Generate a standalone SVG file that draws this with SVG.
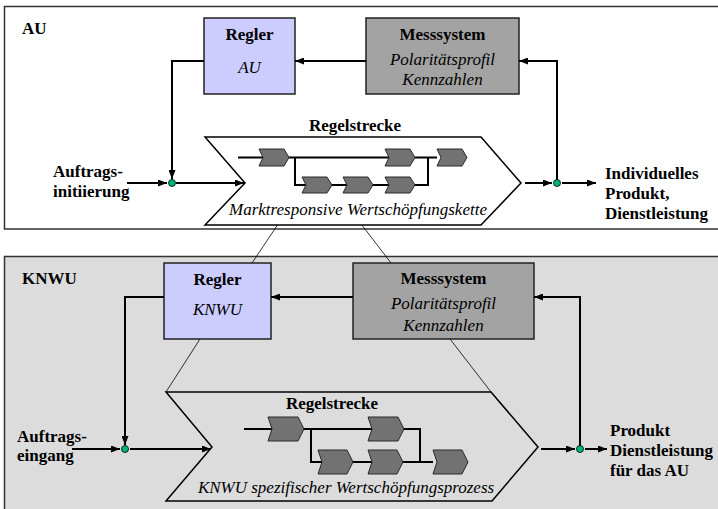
<svg xmlns="http://www.w3.org/2000/svg" width="718" height="509" viewBox="0 0 718 509">
<style>
.t{font-family:'Liberation Serif','DejaVu Serif',serif;font-size:17px;fill:#000}
.b{font-weight:bold}
.i{font-style:italic}
.m{text-anchor:middle}
.panel{stroke:#333;stroke-width:1.5}
.box{stroke:#222;stroke-width:1.5}
.ln{stroke:#000;stroke-width:2;fill:none}
.thin{stroke:#000;stroke-width:0.8;fill:none}
.dot{fill:#00b380;stroke:#000;stroke-width:0.8}
.ch{fill:#727272;stroke:#2a2a2a;stroke-width:1}
.chev{stroke:#000;stroke-width:1.5}
</style>
<defs>
<marker id="arr" viewBox="0 0 9 7" refX="9" refY="3.5" markerWidth="9" markerHeight="7" markerUnits="userSpaceOnUse" orient="auto">
<path d="M0,0 L9,3.5 L0,7 z" fill="#000"/>
</marker>
</defs>

<g id="panel-au">
<rect class="panel" x="4.5" y="6.5" width="720" height="222.5" fill="#fff"/>
<text class="t b" x="22" y="34">AU</text>
</g>
<g id="panel-knwu">
<rect class="panel" x="4.5" y="256.5" width="720" height="262" fill="#dcdcdc"/>
<text class="t b" x="22" y="284">KNWU</text>
</g>

<g id="zoom-lines">
<line class="thin" x1="303" y1="187" x2="252" y2="263"/>
<line class="thin" x1="332" y1="186" x2="391" y2="263"/>
<line class="thin" x1="200" y1="339" x2="166" y2="392"/>
<line class="thin" x1="450" y1="339" x2="491" y2="392"/>
</g>

<g id="au-regler">
<rect class="box" x="204" y="18" width="91" height="76" fill="#ccccff"/>
<text class="t b m" x="249.5" y="40">Regler</text>
<text class="t i m" x="249.5" y="73">AU</text>
</g>
<g id="au-messsystem">
<rect class="box" x="366" y="18" width="153" height="76" fill="#a3a3a3"/>
<text class="t b m" x="442.5" y="40">Messsystem</text>
<text class="t i m" x="442.5" y="65">Polaritätsprofil</text>
<text class="t i m" x="442.5" y="85">Kennzahlen</text>
</g>
<g id="au-regelstrecke">
<polygon class="chev" points="205,137 481,137 521,183 481,225 205,225 245,183" fill="#fff"/>
<text class="t b m" x="355" y="131">Regelstrecke</text>
<path class="ln" d="M238,157.5 L437,157.5 M295,157.5 L295,185 L428,185 L428,157.5"/>
<g id="au-steps">
<polygon class="ch" points="259,149 284,149 289,157.5 284,166 259,166 263,157.5"/>
<polygon class="ch" points="385,149 410,149 415,157.5 410,166 385,166 389,157.5"/>
<polygon class="ch" points="437,149 462,149 467,157.5 462,166 437,166 441,157.5"/>
<polygon class="ch" points="302,177 327,177 332,185 327,193 302,193 306,185"/>
<polygon class="ch" points="343,177 368,177 373,185 368,193 343,193 347,185"/>
<polygon class="ch" points="385,177 410,177 415,185 410,193 385,193 389,185"/>
</g>
<text class="t i m" x="358" y="215">Marktresponsive Wertschöpfungskette</text>
</g>
<g id="au-input">
<text class="t b" x="53" y="177">Auftrags-</text>
<text class="t b" x="53" y="197">initiierung</text>
</g>
<g id="au-output">
<text class="t b" x="605" y="179">Individuelles</text>
<text class="t b" x="605" y="199">Produkt,</text>
<text class="t b" x="605" y="219">Dienstleistung</text>
</g>

<g id="knwu-regler">
<rect class="box" x="164" y="263" width="107" height="76" fill="#ccccff"/>
<text class="t b m" x="217.5" y="285">Regler</text>
<text class="t i m" x="217.5" y="315">KNWU</text>
</g>
<g id="knwu-messsystem">
<rect class="box" x="353" y="263" width="181" height="76" fill="#a3a3a3"/>
<text class="t b m" x="443.5" y="284">Messsystem</text>
<text class="t i m" x="443.5" y="309">Polaritätsprofil</text>
<text class="t i m" x="443.5" y="331">Kennzahlen</text>
</g>
<g id="knwu-regelstrecke">
<polygon class="chev" points="166,392 491,392 538,447 492,501 166,501 212,447" fill="#dcdcdc"/>
<text class="t b m" x="332" y="409">Regelstrecke</text>
<path class="ln" d="M244,429 L420,429 L420,462 M311,429 L311,462 L433,462"/>
<g id="knwu-steps">
<polygon class="ch" points="268,417 298,417 304,429 298,441 268,441 272,429"/>
<polygon class="ch" points="368,417 398,417 404,429 398,441 368,441 372,429"/>
<polygon class="ch" points="318,450 347,450 353,462 347,474 318,474 322,462"/>
<polygon class="ch" points="368,450 397,450 403,462 397,474 368,474 372,462"/>
<polygon class="ch" points="433,450 462,450 468,462 462,474 433,474 437,462"/>
</g>
<text class="t i m" x="346" y="493">KNWU spezifischer Wertschöpfungsprozess</text>
</g>
<g id="knwu-input">
<text class="t b" x="17" y="442">Auftrags-</text>
<text class="t b" x="17" y="461">eingang</text>
</g>
<g id="knwu-output">
<text class="t b" x="610" y="436">Produkt</text>
<text class="t b" x="610" y="456">Dienstleistung</text>
<text class="t b" x="610" y="476">für das AU</text>
</g>

<g id="connectors">
<path class="ln" d="M366,61 L295,61" marker-end="url(#arr)"/>
<path class="ln" d="M557,180 L557,61 L519,61" marker-end="url(#arr)"/>
<path class="ln" d="M204,61 L172,61 L172,179" marker-end="url(#arr)"/>
<path class="ln" d="M127,183 L167,183" marker-end="url(#arr)"/>
<path class="ln" d="M176,183 L244,183" marker-end="url(#arr)"/>
<path class="ln" d="M525,183 L552,183" marker-end="url(#arr)"/>
<path class="ln" d="M562,183 L596,183" marker-end="url(#arr)"/>
<circle class="dot" cx="172" cy="183" r="3.5"/>
<circle class="dot" cx="557" cy="183" r="3.5"/>

<path class="ln" d="M353,297 L271,297" marker-end="url(#arr)"/>
<path class="ln" d="M580,446 L580,297 L534,297" marker-end="url(#arr)"/>
<path class="ln" d="M164,297 L125,297 L125,445" marker-end="url(#arr)"/>
<path class="ln" d="M72,449 L120,449" marker-end="url(#arr)"/>
<path class="ln" d="M130,449 L211,449" marker-end="url(#arr)"/>
<path class="ln" d="M541,449 L575,449" marker-end="url(#arr)"/>
<path class="ln" d="M585,449 L607,449" marker-end="url(#arr)"/>
<circle class="dot" cx="125" cy="449" r="3.5"/>
<circle class="dot" cx="580" cy="449" r="3.5"/>
</g>
</svg>
